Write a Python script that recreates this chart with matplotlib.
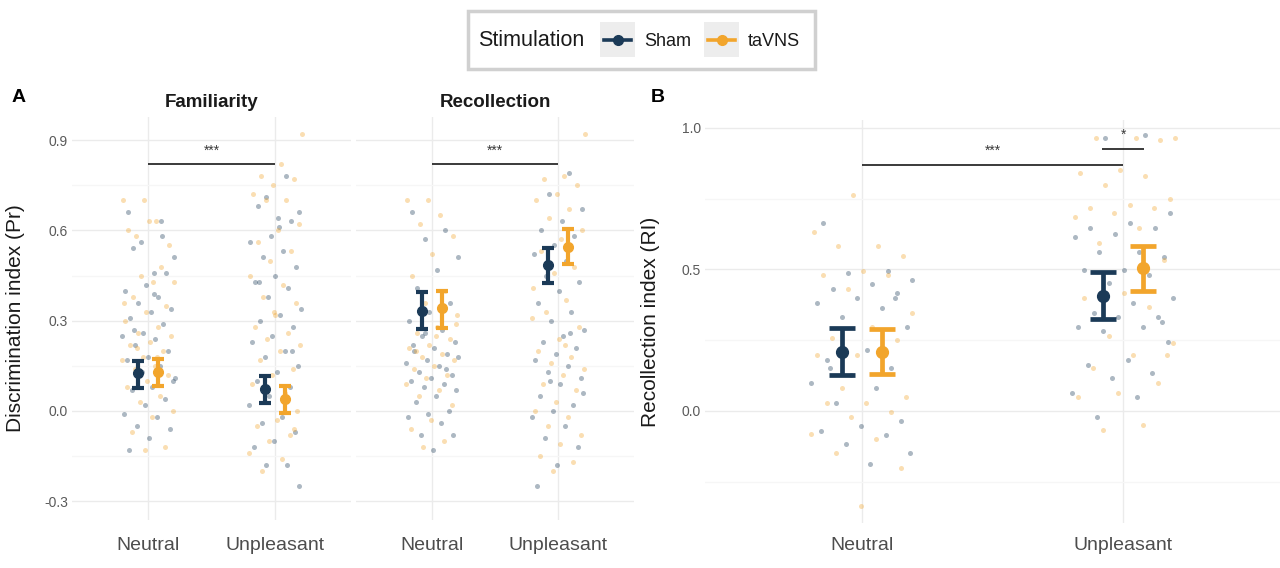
import numpy as np
import matplotlib
matplotlib.use("Agg")
import matplotlib.pyplot as plt
from matplotlib.patches import Rectangle
from matplotlib.lines import Line2D

plt.rcParams['font.family'] = ['Liberation Sans', 'DejaVu Sans']
plt.rcParams['axes.unicode_minus'] = False

# ---------------- data ----------------
categories = ["Neutral", "Unpleasant"]
groups = ["Sham", "taVNS"]

# Panel A - Familiarity: means and CI bounds
fam_mean_sham = [0.125, 0.072]
fam_lo_sham = [0.078, 0.028]
fam_hi_sham = [0.167, 0.116]
fam_mean_tav = [0.129, 0.039]
fam_lo_tav = [0.084, -0.006]
fam_hi_tav = [0.172, 0.084]

# Panel A - Recollection
rec_mean_sham = [0.332, 0.485]
rec_lo_sham = [0.272, 0.426]
rec_hi_sham = [0.394, 0.543]
rec_mean_tav = [0.342, 0.546]
rec_lo_tav = [0.275, 0.487]
rec_hi_tav = [0.400, 0.605]

# Panel B - Recollection index
ri_mean_sham = [0.210, 0.406]
ri_lo_sham = [0.127, 0.324]
ri_hi_sham = [0.292, 0.492]
ri_mean_tav = [0.210, 0.504]
ri_lo_tav = [0.130, 0.424]
ri_hi_tav = [0.290, 0.584]

# individual participant values
fam_neu_sham = [0.66, 0.63, 0.56, 0.51, 0.46, 0.54, 0.46, 0.42, 0.40, 0.38, 0.36, 0.34, 0.33,
                0.31, 0.29, 0.26, 0.25, 0.24, 0.22, 0.20, 0.18, 0.17, 0.15, 0.12, 0.10, 0.08,
                0.07, 0.04, 0.02, -0.01, -0.02, -0.05, -0.06, -0.09, -0.13, 0.58, 0.13, 0.11,
                0.39, 0.27]
fam_neu_tav = [0.70, 0.70, 0.63, 0.58, 0.55, 0.63, 0.60, 0.48, 0.45, 0.43, 0.43, 0.38, 0.35,
               0.33, 0.30, 0.28, 0.26, 0.25, 0.23, 0.22, 0.20, 0.18, 0.17, 0.15, 0.14, 0.12,
               0.10, 0.08, 0.05, 0.03, 0.00, -0.02, -0.07, -0.12, -0.13, 0.36, 0.18, 0.21]
fam_unp_sham = [0.78, 0.71, 0.66, 0.64, 0.68, 0.63, 0.58, 0.56, 0.53, 0.51, 0.48, 0.45, 0.43,
                0.41, 0.38, 0.34, 0.32, 0.30, 0.28, 0.25, 0.23, 0.20, 0.18, 0.15, 0.13, 0.10,
                0.08, 0.05, 0.02, -0.02, -0.04, -0.07, -0.10, -0.12, -0.18, -0.18, -0.25, 0.61,
                0.43, 0.20]
fam_unp_tav = [0.92, 0.82, 0.78, 0.77, 0.75, 0.72, 0.70, 0.70, 0.62, 0.60, 0.56, 0.53, 0.50,
               0.45, 0.42, 0.38, 0.36, 0.32, 0.28, 0.26, 0.24, 0.22, 0.20, 0.17, 0.14, 0.12,
               0.09, 0.06, 0.03, 0.00, -0.03, -0.05, -0.08, -0.10, -0.14, -0.16, -0.20, -0.06,
               0.33]
rec_neu_sham = [0.66, 0.60, 0.57, 0.51, 0.47, 0.41, 0.36, 0.33, 0.30, 0.27, 0.25, 0.23, 0.21,
                0.20, 0.19, 0.17, 0.16, 0.15, 0.13, 0.12, 0.11, 0.10, 0.09, 0.08, 0.07, 0.05,
                0.03, 0.00, -0.01, -0.02, -0.04, -0.08, -0.08, -0.13, 0.22, 0.14, 0.26, 0.18]
rec_neu_tav = [0.70, 0.70, 0.65, 0.62, 0.58, 0.52, 0.45, 0.40, 0.36, 0.32, 0.28, 0.26, 0.24,
               0.22, 0.21, 0.19, 0.18, 0.17, 0.15, 0.14, 0.12, 0.11, 0.09, 0.07, 0.05, 0.02,
               -0.03, -0.06, -0.10, -0.12, 0.29, 0.25, 0.20]
rec_unp_sham = [0.79, 0.72, 0.67, 0.63, 0.60, 0.58, 0.55, 0.52, 0.50, 0.45, 0.43, 0.40, 0.36,
                0.33, 0.30, 0.27, 0.25, 0.23, 0.21, 0.19, 0.17, 0.15, 0.13, 0.11, 0.09, 0.05,
                0.02, 0.00, -0.02, -0.05, -0.09, -0.12, -0.18, -0.25, 0.26, 0.10, 0.06]
rec_unp_tav = [0.92, 0.78, 0.77, 0.75, 0.72, 0.70, 0.67, 0.64, 0.60, 0.57, 0.53, 0.48, 0.46,
               0.41, 0.37, 0.33, 0.28, 0.24, 0.20, 0.18, 0.16, 0.14, 0.12, 0.09, 0.07, 0.03,
               0.00, -0.02, -0.05, -0.08, -0.11, -0.15, -0.17, -0.20, 0.31, 0.22]
ri_neu_sham = [0.663, 0.496, 0.486, 0.463, 0.449, 0.430, 0.416, 0.398, 0.381, 0.363, 0.331,
               0.298, 0.216, 0.180, 0.151, 0.127, 0.098, 0.080, 0.030, -0.034, -0.053, -0.069,
               -0.085, -0.116, -0.150, -0.187, 0.151, 0.398]
ri_neu_tav = [0.763, 0.632, 0.583, 0.583, 0.548, 0.496, 0.481, 0.481, 0.430, 0.345, 0.298,
              0.257, 0.250, 0.198, 0.198, 0.145, 0.080, 0.051, 0.030, 0.030, -0.002, -0.020,
              -0.081, -0.100, -0.150, -0.203, -0.336]
ri_unp_sham = [0.975, 0.963, 0.698, 0.663, 0.645, 0.645, 0.627, 0.616, 0.563, 0.563, 0.545,
               0.498, 0.498, 0.481, 0.451, 0.398, 0.381, 0.347, 0.331, 0.331, 0.298, 0.298,
               0.281, 0.245, 0.180, 0.163, 0.133, 0.116, 0.062, 0.048, -0.020, 0.315]
ri_unp_tav = [0.963, 0.963, 0.963, 0.958, 0.850, 0.840, 0.831, 0.799, 0.748, 0.728, 0.716,
              0.716, 0.698, 0.684, 0.645, 0.592, 0.533, 0.416, 0.398, 0.369, 0.265, 0.239,
              0.198, 0.151, 0.098, 0.062, 0.051, -0.049, -0.067, 0.198]

# significance annotations
famA_sig = dict(x=[0, 1], y=0.82, label="***")
recA_sig = dict(x=[0, 1], y=0.82, label="***")
riB_sig_main = dict(x=[0, 1], y=0.87, label="***")
riB_sig_unp = dict(x=[0.92, 1.08], y=0.927, label="*")

# ---------------- style ----------------
C_SHAM = "#1B3A57"
C_TAV = "#F2A52C"
GRID_MAJ = "#EBEBEB"
GRID_MIN = "#F6F6F6"
TICK_C = "#5A5A5A"

W, H = 1280, 568
fig = plt.figure(figsize=(W / 100, H / 100), dpi=100)


def fx(px):
    return px / W


def fy(py):
    return 1 - py / H


def make_ax(left, right, top, bottom):
    return fig.add_axes([fx(left), fy(bottom), fx(right) - fx(left), fy(top) - fy(bottom)])


def jitter(n, width, phase):
    return ((np.arange(n) * 0.6180339887 + phase) % 1.0 - 0.5) * 2 * width


def style_ax(ax, ylim, major, minor, show_y, xpad, ylab=None, ylab_x=None):
    ax.set_xlim(-0.6, 1.6)
    ax.set_ylim(*ylim)
    for s in ax.spines.values():
        s.set_visible(False)
    ax.set_yticks(major)
    ax.set_yticks(minor, minor=True)
    ax.set_xticks([0, 1])
    ax.set_xticklabels(categories, fontsize=14, color="#4D4D4D")
    ax.tick_params(axis="x", length=0, pad=xpad)
    ax.tick_params(axis="y", which="both", length=0, pad=3, labelsize=10, labelcolor=TICK_C)
    if show_y:
        ax.set_yticklabels([f"{v:.1f}" for v in major])
    else:
        ax.set_yticklabels([])
    ax.grid(True, axis="y", which="major", color=GRID_MAJ, lw=1.0, zorder=0)
    ax.grid(True, axis="y", which="minor", color=GRID_MIN, lw=0.9, zorder=0)
    ax.grid(True, axis="x", which="major", color=GRID_MAJ, lw=1.0, zorder=0)
    ax.set_axisbelow(True)
    if ylab:
        ax.set_ylabel(ylab, fontsize=15, color="#1A1A1A")
        ax.yaxis.set_label_coords(ylab_x, 0.5)


def draw_points(ax, sets, width):
    for k, (vals, col) in enumerate(sets):
        cat = k // 2
        xs = cat + jitter(len(vals), width, 0.13 + 0.29 * k)
        ax.scatter(xs, vals, s=13, color=col, alpha=0.36, lw=0, zorder=2)


def draw_err(ax, means_s, lo_s, hi_s, means_t, lo_t, hi_t, dodge, ms, lw, cap):
    x = np.arange(len(categories))
    for off, m, lo, hi, col in [(-dodge, means_s, lo_s, hi_s, C_SHAM),
                                (dodge, means_t, lo_t, hi_t, C_TAV)]:
        m = np.array(m); lo = np.array(lo); hi = np.array(hi)
        ax.errorbar(x + off, m, yerr=[m - lo, hi - m], fmt="o", color=col, ms=ms,
                    elinewidth=lw, capsize=cap, capthick=lw, zorder=4)


def draw_sig(ax, sig, dy, fs):
    ax.plot(sig["x"], [sig["y"], sig["y"]], color="#2B2B2B", lw=1.3, zorder=3,
            solid_capstyle="butt")
    ax.text(np.mean(sig["x"]), sig["y"] + dy, sig["label"], ha="center", va="center",
            fontsize=fs, color="#3A3A3A", zorder=3)


# ---------------- panel A ----------------
ylimA = ((411 - 520) / 301, (411 - 117) / 301)
majA = [-0.3, 0.0, 0.3, 0.6, 0.9]
minA = [-0.15, 0.15, 0.45, 0.75]

axA1 = make_ax(72, 351, 117, 520)
style_ax(axA1, ylimA, majA, minA, True, 12, "Discrimination index (Pr)", (25 - 72) / 279)
draw_points(axA1, [(fam_neu_sham, C_SHAM), (fam_neu_tav, C_TAV),
                   (fam_unp_sham, C_SHAM), (fam_unp_tav, C_TAV)], 0.21)
draw_err(axA1, fam_mean_sham, fam_lo_sham, fam_hi_sham,
         fam_mean_tav, fam_lo_tav, fam_hi_tav, 0.08, 7, 3.0, 4.5)
draw_sig(axA1, famA_sig, 0.045, 10)
axA1.set_title("Familiarity", fontsize=13.5, fontweight="bold", pad=7, color="#1A1A1A")

axA2 = make_ax(356, 634, 117, 520)
style_ax(axA2, ylimA, majA, minA, False, 12)
draw_points(axA2, [(rec_neu_sham, C_SHAM), (rec_neu_tav, C_TAV),
                   (rec_unp_sham, C_SHAM), (rec_unp_tav, C_TAV)], 0.21)
draw_err(axA2, rec_mean_sham, rec_lo_sham, rec_hi_sham,
         rec_mean_tav, rec_lo_tav, rec_hi_tav, 0.08, 7, 3.0, 4.5)
draw_sig(axA2, recA_sig, 0.045, 10)
axA2.set_title("Recollection", fontsize=13.5, fontweight="bold", pad=7, color="#1A1A1A")

# ---------------- panel B ----------------
ylimB = ((411 - 523) / 283, (411 - 120) / 283)
axB = make_ax(705, 1280, 120, 523)
style_ax(axB, ylimB, [0.0, 0.5, 1.0], [-0.25, 0.25, 0.75], True, 10,
         "Recollection index (RI)", (660 - 705) / 575)
draw_points(axB, [(ri_neu_sham, C_SHAM), (ri_neu_tav, C_TAV),
                  (ri_unp_sham, C_SHAM), (ri_unp_tav, C_TAV)], 0.2)
draw_err(axB, ri_mean_sham, ri_lo_sham, ri_hi_sham,
         ri_mean_tav, ri_lo_tav, ri_hi_tav, 0.077, 8.5, 3.4, 9.5)
draw_sig(axB, riB_sig_main, 0.05, 10)
draw_sig(axB, riB_sig_unp, 0.05, 10)

# panel letters
fig.text(fx(12), fy(97), "A", fontsize=14, fontweight="bold", va="center", ha="left")
fig.text(fx(651), fy(97), "B", fontsize=14, fontweight="bold", va="center", ha="left")

# ---------------- legend ----------------
fig.patches.append(Rectangle((fx(468), fy(69)), fx(815) - fx(468), fy(11) - fy(69),
                             transform=fig.transFigure, facecolor="white",
                             edgecolor="#D0D0D0", lw=2.5, zorder=5))
fig.text(fx(478), fy(40), "Stimulation", fontsize=15.5, va="center", ha="left",
         color="#1A1A1A", zorder=6)
for (kx, label, col) in [(600, groups[0], C_SHAM), (704, groups[1], C_TAV)]:
    fig.patches.append(Rectangle((fx(kx), fy(57)), fx(35), fy(22) - fy(57),
                                 transform=fig.transFigure, facecolor="#EDEDED",
                                 edgecolor="none", zorder=6))
    fig.lines.append(Line2D([fx(kx + 4), fx(kx + 31)], [fy(40), fy(40)],
                            transform=fig.transFigure, color=col, lw=2.6, zorder=7))
    fig.lines.append(Line2D([fx(kx + 17.5)], [fy(40)], transform=fig.transFigure,
                            color=col, marker="o", ms=7, zorder=8))
    fig.text(fx(kx + 44), fy(41), label, fontsize=13, va="center", ha="left",
             color="#1A1A1A", zorder=6)

fig.savefig("out.png", dpi=100)
